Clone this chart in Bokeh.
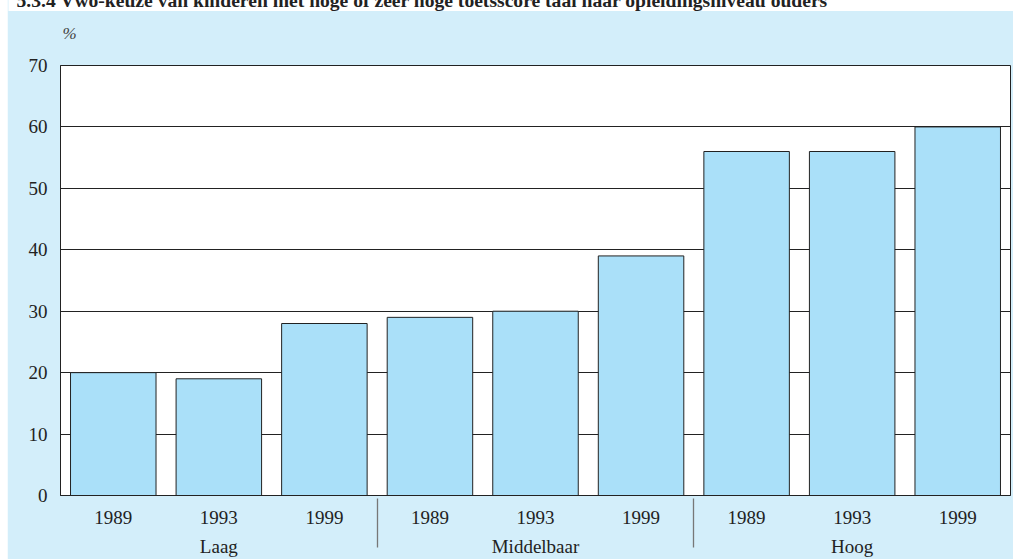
from bokeh.plotting import figure
from bokeh.models import FactorRange, Range1d, FixedTicker, Label, ColumnDataSource
from bokeh.embed import file_html
from bokeh.resources import INLINE

# ---- data ----
title_text = "5.3.4  Vwo-keuze van kinderen met hoge of zeer hoge toetsscore taal naar opleidingsniveau ouders"
groups = ["Laag", "Middelbaar", "Hoog"]
years = ["1989", "1993", "1999"]
values_laag = [20, 19, 28]
values_middelbaar = [29, 30, 39]
values_hoog = [56, 56, 60]
y_ticks = [0, 10, 20, 30, 40, 50, 60, 70]
y_unit = "%"

factors = [(g, y) for g in groups for y in years]
vals = values_laag + values_middelbaar + values_hoog
source = ColumnDataSource(data=dict(x=factors, top=vals))

PANEL = "#d3eefa"
BAR = "#aae0f9"
INK = "#222222"
FONT = "Liberation Serif"
FS = "19px"

p = figure(
    width=1006, height=567,
    x_range=FactorRange(*factors, factor_padding=0, group_padding=0,
                        subgroup_padding=0, range_padding=0),
    y_range=Range1d(0, 70),
    output_backend="svg", toolbar_location=None,
    min_border_left=53, min_border_right=3, min_border_top=73, min_border_bottom=64,
)
p.margin = (-8, 0, 0, 7)
p.border_fill_color = PANEL
p.background_fill_color = "white"
p.outline_line_color = INK
p.outline_line_width = 1

p.vbar(x="x", top="top", width=0.81, source=source,
       fill_color=BAR, line_color=INK, line_width=1)

p.xgrid.grid_line_color = None
p.ygrid.ticker = FixedTicker(ticks=y_ticks)
p.ygrid.grid_line_color = INK
p.ygrid.grid_line_width = 1

yax = p.yaxis[0]
yax.ticker = FixedTicker(ticks=y_ticks)
yax.major_tick_in = 0
yax.major_tick_out = 0
yax.minor_tick_line_color = None
yax.axis_line_color = INK
yax.major_label_text_font = FONT
yax.major_label_text_font_size = FS
yax.major_label_text_color = INK
yax.major_label_standoff = 13

xax = p.xaxis[0]
xax.axis_line_color = INK
xax.major_tick_line_color = None
xax.minor_tick_line_color = None
xax.major_label_text_font = FONT
xax.major_label_text_font_size = FS
xax.major_label_text_color = INK
xax.major_label_standoff = 9
xax.group_text_font = FONT
xax.group_text_font_size = FS
xax.group_text_color = INK
xax.group_text_font_style = "normal"
xax.separator_line_color = "#777777"
xax.separator_line_width = 1.3

# labels live in a side panel so that they are not clipped to the frame
p.add_layout(Label(x=55, y=41, x_units="canvas", y_units="canvas", text=y_unit,
                   text_font=FONT, text_font_style="italic",
                   text_font_size="17px", text_color="#444444",
                   text_baseline="alphabetic"), "above")
p.add_layout(Label(x=1, y=8, x_units="canvas", y_units="canvas", text=title_text,
                   text_font=FONT, text_font_style="bold",
                   text_font_size="19.6px", text_color=INK,
                   text_baseline="alphabetic",
                   background_fill_color="white",
                   padding=dict(left=8, right=260, top=0, bottom=0)), "above")

open("out.html", "w").write(file_html(p, INLINE))
